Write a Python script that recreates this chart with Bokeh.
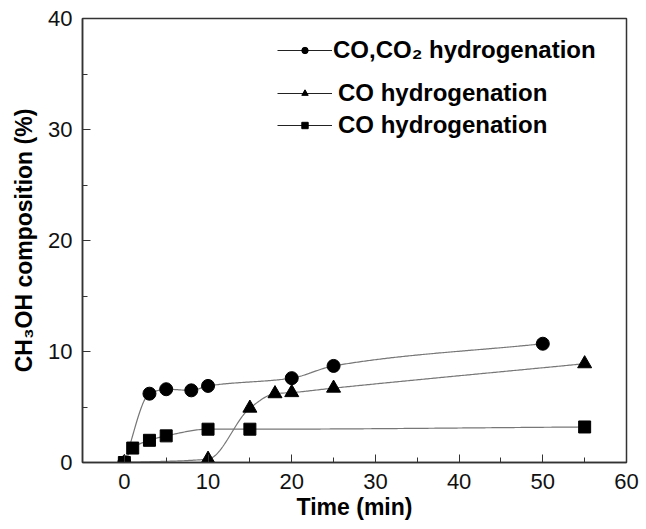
import numpy as np
from bokeh.plotting import figure
from bokeh.models import Legend, LegendItem, Range1d, ColumnDataSource, FixedTicker
from bokeh.embed import file_html
from bokeh.resources import INLINE

# ---- data ----
t_co_co2 = [0, 3, 5, 8, 10, 20, 25, 50]
v_co_co2 = [0, 6.2, 6.6, 6.5, 6.9, 7.6, 8.7, 10.7]

t_co_tri = [0, 10, 15, 18, 20, 25, 55]
v_co_tri = [0, 0.3, 4.9, 6.2, 6.3, 6.7, 8.9]

t_co_sq = [0, 1, 3, 5, 10, 15, 55]
v_co_sq = [0, 1.3, 2.0, 2.4, 3.0, 3.0, 3.2]

labels = ["CO,CO\u2082 hydrogenation", "CO hydrogenation", "CO hydrogenation"]
x_ticks = [0, 10, 20, 30, 40, 50, 60]
y_ticks = [0, 10, 20, 30, 40]


def pchip(x, y, n=300):
    x = np.asarray(x, float)
    y = np.asarray(y, float)
    h = np.diff(x)
    delta = np.diff(y) / h
    m = len(x)
    d = np.zeros(m)
    for k in range(1, m - 1):
        if delta[k - 1] * delta[k] <= 0:
            d[k] = 0.0
        else:
            w1 = 2 * h[k] + h[k - 1]
            w2 = h[k] + 2 * h[k - 1]
            d[k] = (w1 + w2) / (w1 / delta[k - 1] + w2 / delta[k])
    d[0] = delta[0]
    d[-1] = delta[-1]
    xs = np.linspace(x[0], x[-1], n)
    idx = np.clip(np.searchsorted(x, xs) - 1, 0, m - 2)
    hk = h[idx]
    s = (xs - x[idx]) / hk
    h00 = 2 * s**3 - 3 * s**2 + 1
    h10 = s**3 - 2 * s**2 + s
    h01 = -2 * s**3 + 3 * s**2
    h11 = s**3 - s**2
    ys = h00 * y[idx] + h10 * hk * d[idx] + h01 * y[idx + 1] + h11 * hk * d[idx + 1]
    return xs, ys


p = figure(width=646, height=529, output_backend="svg", toolbar_location=None,
           x_range=Range1d(-5, 60), y_range=Range1d(0, 40),
           min_border_left=82, min_border_right=20, min_border_top=18, min_border_bottom=67)
p.background_fill_color = "white"
p.border_fill_color = "white"
p.outline_line_color = "#333333"
p.outline_line_width = 1.5
p.xgrid.visible = False
p.ygrid.visible = False

line_col = "#777777"
series = [
    (t_co_co2, v_co_co2, "circle", 13),
    (t_co_tri, v_co_tri, "triangle", 14),
    (t_co_sq, v_co_sq, "square", 12),
]
for xs_, ys_, mk, sz in series:
    cx, cy = pchip(xs_, ys_)
    p.line(cx, cy, line_color=line_col, line_width=1.2)
    p.scatter(xs_, ys_, marker=mk, size=sz, fill_color="black", line_color="black")

# legend (three separate entries to match spacing); proxies sit outside the visible range
leg_pos = [(195, 398), (195, 355), (195, 323)]
standoffs = [1, 6, 6]
for (mk, lab, pos, so) in zip(["circle", "triangle", "square"], labels, leg_pos, standoffs):
    src = ColumnDataSource(dict(x=[-1000, -999], y=[-1000, -1000]))
    lr = p.line("x", "y", source=src, line_color="#222222", line_width=1.2)
    sr = p.scatter("x", "y", source=src, marker=mk, size=7, fill_color="black", line_color="black")
    leg = Legend(items=[LegendItem(label=lab, renderers=[lr, sr])], location=pos,
                 border_line_color=None, background_fill_alpha=0,
                 padding=0, margin=0, spacing=0,
                 glyph_width=55, glyph_height=16, label_height=16,
                 label_standoff=so,
                 label_text_font="Liberation Sans", label_text_font_style="bold",
                 label_text_font_size="24px", label_text_color="black")
    p.add_layout(leg)

for ax in (p.xaxis[0], p.yaxis[0]):
    ax.axis_line_color = "#333333"
    ax.axis_line_width = 1.5
    ax.major_tick_in = 8
    ax.major_tick_out = 0
    ax.minor_tick_in = 5
    ax.minor_tick_out = 0
    ax.major_tick_line_color = "#333333"
    ax.minor_tick_line_color = "#333333"
    ax.major_label_text_font = "Liberation Sans"
    ax.major_label_text_font_size = "22px"
    ax.major_label_text_color = "#111111"
    ax.axis_label_text_font = "Liberation Sans"
    ax.axis_label_text_font_style = "bold"
    ax.axis_label_text_font_size = "23px"
    ax.axis_label_text_color = "black"

p.xaxis[0].ticker = FixedTicker(ticks=x_ticks, minor_ticks=list(range(-5, 61, 5)))
p.yaxis[0].ticker = FixedTicker(ticks=y_ticks, minor_ticks=list(range(0, 41, 5)))
p.xaxis.major_label_standoff = 11
p.yaxis.major_label_standoff = 10
p.xaxis.axis_label = "Time (min)"
p.yaxis.axis_label = "CH\u2083OH composition (%)"
p.xaxis.axis_label_standoff = 2
p.yaxis.axis_label_standoff = 8

open("out.html", "w").write(file_html(p, INLINE))
